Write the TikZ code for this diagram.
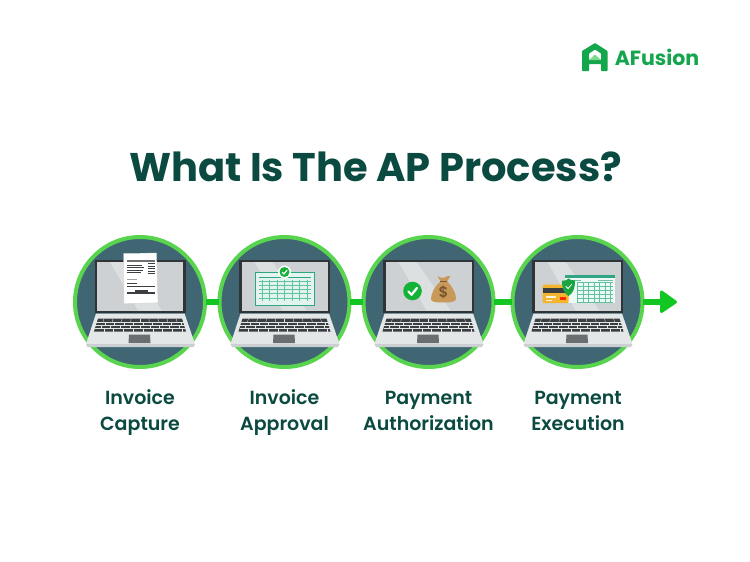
\documentclass[tikz,border=0pt]{standalone}
\usepackage{fontspec}
\usetikzlibrary{calc}
\setmainfont{Poppins}
\newfontfamily\semib{Poppins SemiBold}
\definecolor{ring}{HTML}{58D44F}
\definecolor{teal}{HTML}{3F6672}
\definecolor{bez}{HTML}{2F3437}
\definecolor{scr}{HTML}{CDD1D3}
\definecolor{scrl}{HTML}{DDE0E1}
\definecolor{basec}{HTML}{E4E7E8}
\definecolor{bases}{HTML}{CBCFD1}
\definecolor{keyc}{HTML}{3B3F42}
\definecolor{padc}{HTML}{6A6E71}
\definecolor{conn}{HTML}{13C722}
\definecolor{titlec}{HTML}{0B4A40}
\definecolor{gridg}{HTML}{5FC3A0}
\definecolor{gridf}{HTML}{E3F4EE}
\definecolor{tabb}{HTML}{2FA584}
\definecolor{okg}{HTML}{12B336}
\definecolor{bag}{HTML}{C9995A}
\definecolor{bagd}{HTML}{7A5630}
\definecolor{cardy}{HTML}{F3B52F}
\definecolor{logog}{HTML}{13A64C}
\definecolor{logol}{HTML}{7FD98A}
\tikzset{
  stepdisc/.style={circle,draw=ring,fill=teal,line width=4pt,minimum size=130pt,inner sep=0pt},
  link/.style={draw=conn,line width=6pt,shorten <=-1.5pt,shorten >=-1.5pt},
  steplabel/.style={text=titlec,font=\semib\fontsize{19}{26}\selectfont,align=center,inner sep=0pt},
}
\newcommand{\laptopbody}{%
  \fill[bez] (-45.5,-42) rectangle (45.5,11);
  \fill[scr] (-43,-40) rectangle (43,8.5);
  \fill[scrl] (-30,-40) -- (-12,-40) -- (22,8.5) -- (-2,8.5) -- cycle;
  \fill[basec] (-44,11.5) -- (44.5,11.5) -- (55,42) -- (-54,42) -- cycle;
  \fill[bases] (-54,42) -- (55,42) -- (53.5,45) -- (-52.5,45) -- cycle;
  \fill[keyc] (-42,16.5) -- (42,16.5) -- (46,29.5) -- (-46,29.5) -- cycle;
  \foreach \yy in {20,23.3,26.5} \draw[basec,line width=.35pt] (-45,\yy) -- (45,\yy);
  \foreach \xx in {-36,-27,-18,-9,0,9,18,27,36} {
    \draw[basec,line width=.35pt] (\xx,16.5) -- (1.03*\xx,20);
    \draw[basec,line width=.35pt] (1.05*\xx+3,20) -- (1.05*\xx+3,23.3);
    \draw[basec,line width=.35pt] (1.09*\xx,23.3) -- (1.09*\xx,26.5);
    \draw[basec,line width=.35pt] (1.09*\xx+3,26.5) -- (1.09*\xx+3,29.5);
  }
  \fill[padc] (-11,32.5) -- (10,32.5) -- (10.5,41) -- (-11.5,41) -- cycle;
}
\newcommand{\okbadge}[3]{%
  \fill[okg] (#1,#2) circle (#3);
  \draw[white,line width=.24*#3 pt,line cap=round,line join=round]
    ($(#1,#2)+(-.45*#3,.05*#3)$) -- ($(#1,#2)+(-.1*#3,.4*#3)$) -- ($(#1,#2)+(.48*#3,-.33*#3)$);
}
\begin{document}
\begin{tikzpicture}[x=1pt,y=-1pt]
\useasboundingbox (0,0) rectangle (750,562);
\fill[white] (0,0) rectangle (750,562);

% discs
\node[stepdisc] (c1) at (140,302) {};
\node[stepdisc] (c2) at (284.5,302) {};
\node[stepdisc] (c3) at (428.5,302) {};
\node[stepdisc] (c4) at (577.5,302) {};
\coordinate (tip) at (668,302);
\draw[link] (c1) -- (c2);
\draw[link] (c2) -- (c3);
\draw[link] (c3) -- (c4);
\draw[link] (c4) -- (tip);
\fill[conn,draw=conn,line width=3pt,line join=round] (661.5,292) -- (675.5,302) -- (661.5,311.5) -- cycle;

% laptop 1: paper
\begin{scope}[shift={(c1)}]
  \laptopbody
  \fill[white,draw=bases,line width=.3pt] (-16.5,-48.5) -- (16.5,-49) -- (18,.8) -- (-16,1.6) -- cycle;
  \fill[keyc!75] (-13,-42) rectangle (14.5,-40.5);
  \foreach \yy/\xb in {-37.5/2,-35/4,-32.5/3,-30/1} \fill[keyc] (-13,\yy) rectangle (\xb,\yy+1.3);
  \foreach \yy in {-39,-36.5,-34,-31.5,-29} \fill[keyc] (8,\yy) rectangle (15,\yy+1.3);
  \fill[keyc!50] (-13,-23) rectangle (-3,-22.2);
  \fill[keyc] (-13,-19) rectangle (-3,-17.8);
  \fill[keyc] (-13,-16.5) rectangle (15,-15.5);
  \fill[keyc] (-5,-12) rectangle (8,-10.5);
  \fill[keyc] (-13,-10.5) rectangle (15,-8.5);
\end{scope}

% laptop 2: table
\begin{scope}[shift={(c2)}]
  \laptopbody
  \fill[gridf,draw=tabb,line width=.5pt] (-29,-30) rectangle (30,3);
  \draw[tabb,line width=1pt] (-26,-25) -- (26,-25);
  \draw[gridg,line width=.5pt] (-26,-22) grid[xstep=7.43pt,ystep=4.2pt] (26,-1);
  \fill[white] (0,-30) circle (6.5);
  \okbadge{0}{-30}{5}
\end{scope}

% laptop 3: check and money bag
\begin{scope}[shift={(c3)}]
  \laptopbody
  \okbadge{-16}{-11}{9.3}
  \fill[bag] (9,-26) .. controls (12,-24) and (14,-24) .. (16,-24.5) .. controls (18,-25) and (20,-27) .. (22,-26)
     -- (18.5,-20.5) .. controls (24,-16) and (28,-7) .. (27.5,-3) .. controls (27,0) and (22,.5) .. (15,.5)
     .. controls (7,.5) and (2.5,0) .. (2.5,-3) .. controls (2.5,-8) and (6,-16) .. (12,-20.5) -- cycle;
  \draw[bagd,line width=1pt] (11.5,-20.5) -- (18.5,-20.5);
  \node[inner sep=0pt,text=bagd,font=\semib\fontsize{15}{15}\selectfont] (dollar) at (15,-9.5) {\$};
\end{scope}

% laptop 4: card and table
\begin{scope}[shift={(c4)}]
  \laptopbody
  \fill[gridf!60!white] (-13,-27) rectangle (37,.5);
  \fill[tabb] (-13,-27) rectangle (37,-24.5);
  \draw[gridg,line width=.4pt] (-1,-20) grid[xstep=5.5pt,ystep=4pt] (35,0);
  \fill[tabb!70] (-11,-22.5) rectangle (3,-22);
  \fill[tabb!70] (20,-22.5) rectangle (35,-22);
  \fill[cardy,rounded corners=1pt] (-35,-17.5) rectangle (-9,1);
  \fill[keyc] (-35,-14) rectangle (-9,-9);
  \fill[white!85!cardy] (-32,-6) rectangle (-22,-4.5);
  \fill[white!85!cardy] (-32,-2.5) rectangle (-26,-1);
  \fill[red!70!orange] (-18,-5.5) rectangle (-12,-2);
  \fill[okg!80!teal] (-15.5,-21.5) .. controls (-12,-21) and (-9.5,-22.5) .. (-9,-23.5)
     .. controls (-8,-22.5) and (-5,-21) .. (-2.5,-21.5)
     .. controls (-2.5,-14) and (-4,-9) .. (-9,-6) .. controls (-14,-9) and (-15.5,-14) .. (-15.5,-21.5) -- cycle;
  \draw[white,line width=.8pt,line cap=round] (-11.5,-15.5) -- (-9.5,-13.5) -- (-6,-17.5);
\end{scope}

% texts
\node[inner sep=0pt,text=titlec,font=\bfseries\fontsize{40}{44}\selectfont] (title) at (375.5,167) {What Is The AP Process?};
\node[steplabel] (l1) at (140,412) {\strut Invoice\\\strut Capture};
\node[steplabel] (l2) at (284.5,412) {\strut Invoice\\\strut Approval};
\node[steplabel] (l3) at (428.5,412) {\strut Payment\\\strut Authorization};
\node[steplabel] (l4) at (578,412) {\strut Payment\\\strut Execution};

% logo
\fill[logog,rounded corners=.6pt,even odd rule] (582,51) -- (595,43) -- (607.5,51) -- (607.5,71) -- (601,71) -- (601,64) -- (589,64) -- (589,71) -- (582,71) -- cycle
   (589,53.5) -- (595,49.5) -- (601,53.5) -- (601,60) -- (589,60) -- cycle;
\fill[logol] (589,60) -- (595,54.5) -- (601,60) -- cycle;
\node[inner sep=0pt,text=logog,font=\bfseries\fontsize{20.5}{20}\selectfont] (brand) at (657,57) {AFusion};
\end{tikzpicture}
\end{document}
